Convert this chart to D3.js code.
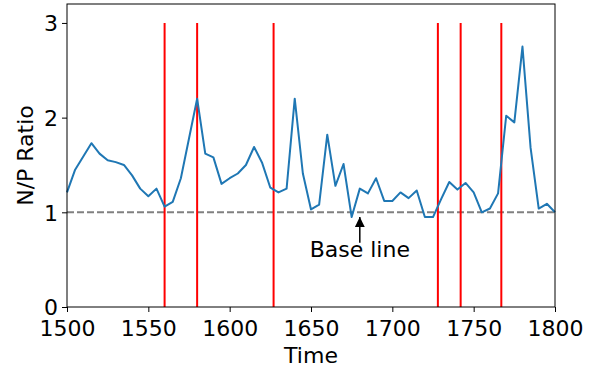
<!DOCTYPE html>
<html>
<head>
<meta charset="utf-8">
<script src="https://cdn.jsdelivr.net/npm/d3@7"></script>
<style>
  body { margin: 0; background: #fff; }
  svg { display: block; font-family: "DejaVu Sans", sans-serif; }
</style>
</head>
<body>
<div id="chart"></div>
<script>
// N/P ratio over time, one point every 5 years
const years = d3.range(1500, 1801, 5);
const ratio = [
  1.21, 1.45, 1.59, 1.73, 1.62, 1.55, 1.53, 1.50, 1.39, 1.25,
  1.17, 1.25, 1.06, 1.11, 1.36, 1.78, 2.20, 1.62, 1.58, 1.30,
  1.36, 1.41, 1.50, 1.69, 1.52, 1.26, 1.21, 1.25, 2.20, 1.41,
  1.03, 1.08, 1.82, 1.28, 1.51, 0.95, 1.25, 1.20, 1.36, 1.12,
  1.12, 1.21, 1.15, 1.23, 0.95, 0.95, 1.14, 1.32, 1.24, 1.31,
  1.21, 1.00, 1.04, 1.20, 2.02, 1.95, 2.75, 1.68, 1.04, 1.09,
  1.00
];
const eventYears = [1560, 1580, 1627, 1728, 1742, 1767];
const xTicks = [1500, 1550, 1600, 1650, 1700, 1750, 1800];
const yTicks = [0, 1, 2, 3];
const baseValue = 1;

const W = 596, H = 368;
const margin = { top: 4, right: 41, bottom: 61, left: 67 };
const width = W - margin.left - margin.right;
const height = H - margin.top - margin.bottom;
const fontSize = '22px';

const svg = d3.select('#chart')
  .append('svg')
  .attr('width', W)
  .attr('height', H);

const g = svg.append('g')
  .attr('transform', `translate(${margin.left}, ${margin.top})`);

const x = d3.scaleLinear().domain([1500, 1800]).range([0, width]);
const y = d3.scaleLinear().domain([0, 3.2]).range([height, 0]);

// base line
g.append('line')
  .attr('x1', 0).attr('x2', width)
  .attr('y1', y(baseValue)).attr('y2', y(baseValue))
  .attr('stroke', '#808080')
  .attr('stroke-width', 2)
  .attr('stroke-dasharray', '7,3');

// event lines
g.selectAll('.event')
  .data(eventYears)
  .join('line')
  .attr('class', 'event')
  .attr('x1', d => x(d)).attr('x2', d => x(d))
  .attr('y1', y(0)).attr('y2', y(3))
  .attr('stroke', 'red')
  .attr('stroke-width', 2);

// ratio line
g.append('path')
  .datum(years.map((yr, i) => ({ yr, v: ratio[i] })))
  .attr('fill', 'none')
  .attr('stroke', '#1f77b4')
  .attr('stroke-width', 2)
  .attr('stroke-linejoin', 'round')
  .attr('d', d3.line().x(d => x(d.yr)).y(d => y(d.v)));

// annotation
const annX = 1680;
g.append('text')
  .attr('x', x(annX))
  .attr('y', y(0.53))
  .attr('text-anchor', 'middle')
  .style('font-size', fontSize)
  .text('Base line');

svg.append('defs').append('marker')
  .attr('id', 'arrow')
  .attr('viewBox', '0 0 10 10')
  .attr('refX', 10).attr('refY', 5)
  .attr('markerWidth', 10).attr('markerHeight', 10)
  .attr('markerUnits', 'userSpaceOnUse')
  .attr('orient', 'auto')
  .append('path')
  .attr('d', 'M0,0 L10,5 L0,10 Z')
  .attr('fill', '#000');

g.append('line')
  .attr('x1', x(annX)).attr('x2', x(annX))
  .attr('y1', y(0.53) - 14).attr('y2', y(0.95))
  .attr('stroke', '#000')
  .attr('stroke-width', 1.5)
  .attr('marker-end', 'url(#arrow)');

// axes
const xAxis = g.append('g')
  .attr('transform', `translate(0, ${height})`)
  .call(d3.axisBottom(x).tickValues(xTicks).tickFormat(d3.format('d')).tickSize(5).tickPadding(7));

const yAxis = g.append('g')
  .call(d3.axisLeft(y).tickValues(yTicks).tickFormat(d3.format('d')).tickSize(5).tickPadding(4));

[xAxis, yAxis].forEach(a => {
  a.select('.domain').remove();
  a.selectAll('text').style('font-size', fontSize).attr('fill', '#000')
    .style('font-family', '"DejaVu Sans", sans-serif');
  a.selectAll('line').attr('stroke', '#000').attr('stroke-width', 1);
});
yAxis.selectAll('text').attr('dy', '0.35em');
xAxis.selectAll('text').attr('dy', '0.75em');

g.append('rect')
  .attr('width', width).attr('height', height)
  .attr('fill', 'none')
  .attr('stroke', '#000')
  .attr('stroke-width', 1);

// axis labels
svg.append('text')
  .attr('x', margin.left + width / 2)
  .attr('y', H - 5)
  .attr('text-anchor', 'middle')
  .style('font-size', fontSize)
  .text('Time');

svg.append('text')
  .attr('transform', `translate(33, ${margin.top + height / 2}) rotate(-90)`)
  .attr('text-anchor', 'middle')
  .style('font-size', fontSize)
  .text('N/P Ratio');
</script>
</body>
</html>
